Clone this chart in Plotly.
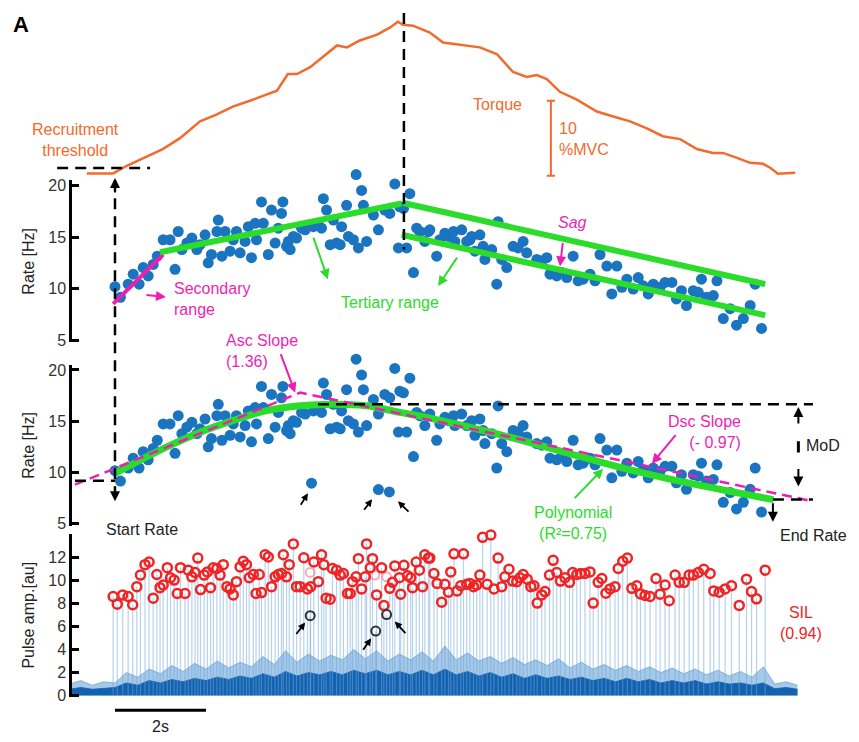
import plotly.graph_objects as go

# ---------------- data (time in s, torque in %MVC, rate in Hz, amplitude in au) -------------
torque_t = [-0.62, -0.04, 0.26, 0.62, 1.05, 1.43, 1.87, 2.24, 2.59, 3.03, 3.34, 3.56, 3.80, 4.00,
            4.29, 4.57, 4.88, 5.10, 5.38, 5.76, 6.04, 6.22, 6.33, 6.55, 6.92, 7.21, 7.52, 7.74,
            8.02, 8.40, 8.75, 9.05, 9.27, 9.49, 9.78, 10.15, 10.59, 10.95, 11.32, 11.69, 12.04,
            12.42, 12.79, 13.14, 13.36, 13.67, 13.96, 14.24, 14.40, 14.57, 14.95]
torque_v = [0.30, 0.30, 1.32, 2.37, 3.55, 5.00, 7.24, 8.16, 9.21, 10.13, 10.79, 11.32, 13.55, 13.55,
            14.47, 15.79, 17.37, 17.11, 18.03, 18.82, 19.74, 20.53, 20.13, 20.00, 19.08, 17.76, 17.50,
            17.37, 17.11, 16.18, 13.82, 13.16, 13.42, 12.89, 11.18, 10.13, 8.55, 7.89, 7.24, 6.32,
            5.26, 4.87, 3.55, 3.03, 3.03, 2.37, 1.71, 1.58, 1.05, 0.26, 0.39]

rate_t = [0.00, 0.12, 0.29, 0.40, 0.53, 0.62, 0.73, 0.84, 0.93, 1.06, 1.21, 1.32, 1.39, 1.47, 1.58,
          1.69, 1.80, 1.87, 1.98, 2.05, 2.12, 2.24, 2.27, 2.35, 2.42, 2.53, 2.60, 2.67, 2.75, 2.86,
          2.93, 3.00, 3.08, 3.11, 3.22, 3.26, 3.37, 3.44, 3.52, 3.59, 3.66, 3.69, 3.77, 3.81, 3.85,
          3.92, 3.99, 4.10, 4.18, 4.36, 4.47, 4.54, 4.58, 4.65, 4.73, 4.80, 4.87, 4.95, 4.98, 5.09,
          5.13, 5.24, 5.30, 5.35, 5.42, 5.46, 5.53, 5.68, 5.79, 5.93, 6.04, 6.15, 6.23, 6.26, 6.34,
          6.41, 6.48, 6.56, 6.63, 6.70, 6.81, 6.89, 6.92, 7.07, 7.14, 7.25, 7.33, 7.44, 7.47, 7.62,
          7.73, 7.80, 7.84, 7.91, 8.02, 8.09, 8.13, 8.28, 8.39, 8.42, 8.50, 8.61, 8.75, 8.86, 8.97,
          9.05, 9.27, 9.38, 9.49, 9.56, 9.71, 9.82, 9.93, 10.07, 10.18, 10.29, 10.44, 10.55, 10.66,
          10.81, 10.92, 11.03, 11.14, 11.25, 11.39, 11.50, 11.61, 11.72, 11.83, 11.98, 12.09, 12.24,
          12.34, 12.45, 12.56, 12.71, 12.82, 12.89, 13.00, 13.15, 13.23, 13.37, 13.52, 13.66, 13.81,
          13.96, 14.07, 14.21]
rate_hz = [10.19, 9.17, 10.44, 11.40, 10.44, 12.04, 11.24, 12.35, 13.15, 14.74, 14.74, 11.88, 15.54,
           13.79, 14.42, 14.90, 13.79, 14.26, 15.22, 12.51, 13.31, 15.54, 16.65, 13.15, 15.54, 13.63,
           14.74, 15.54, 13.47, 14.58, 16.01, 13.00, 16.33, 14.74, 18.40, 16.33, 13.31, 17.61, 14.42,
           15.86, 17.29, 18.40, 14.10, 14.58, 13.79, 15.06, 14.90, 15.86, 15.70, 16.01, 16.17, 15.86,
           18.72, 17.61, 14.26, 16.65, 14.42, 14.26, 16.01, 18.08, 15.06, 14.74, 21.05, 13.95, 19.52,
           18.08, 14.58, 17.13, 15.70, 17.61, 17.29, 20.15, 13.95, 17.93, 17.77, 13.95, 19.20, 11.56,
           15.86, 15.54, 14.58, 15.54, 15.70, 13.15, 14.74, 15.38, 15.06, 15.54, 14.58, 15.70, 14.58,
           14.74, 15.06, 13.63, 15.22, 14.10, 12.83, 13.79, 10.44, 16.49, 12.83, 12.04, 14.10, 13.95,
           14.58, 13.47, 12.83, 12.67, 13.00, 11.40, 11.24, 11.56, 11.08, 13.15, 10.76, 10.92, 11.40,
           10.76, 13.31, 12.19, 9.49, 12.19, 10.13, 10.92, 9.97, 11.08, 10.28, 9.49, 10.44, 10.13,
           10.61, 10.61, 9.01, 9.80, 8.37, 9.80, 9.65, 10.92, 9.17, 9.33, 10.76, 7.10, 8.06, 6.46,
           7.10, 8.37, 10.44, 6.15]
outlier_t = [4.32, 5.79, 6.03]
outlier_hz = [8.97, 8.34, 8.11]

secondary_t = [-0.04, 1.06]
secondary_hz = [8.53, 13.31]
tertiary_up_t = [0.99, 6.30]
tertiary_up_hz = [13.53, 18.25]
tertiary_hi_t = [6.34, 14.29]
tertiary_hi_hz = [18.30, 10.44]
tertiary_lo_t = [6.30, 14.29]
tertiary_lo_hz = [15.22, 7.42]

poly_t = [0.00, 1.14, 1.87, 2.59, 3.33, 4.07, 4.79, 5.53, 6.26, 6.92, 8.39, 9.85, 11.32, 12.78, 14.47]
poly_hz = [9.93, 12.50, 13.94, 15.07, 16.03, 16.51, 16.66, 16.51, 15.87, 15.30, 13.78, 12.02, 10.26,
           8.82, 7.37]
slope_t = [-0.88, 4.07, 15.34]
slope_hz = [8.82, 17.80, 7.20]

pulse_t = [-0.04, 0.05, 0.17, 0.29, 0.39, 0.48, 0.56, 0.66, 0.75, 0.84, 0.92, 0.99, 1.06, 1.15, 1.22,
           1.30, 1.37, 1.44, 1.54, 1.61, 1.69, 1.76, 1.82, 1.88, 1.96, 2.03, 2.10, 2.16, 2.24, 2.31,
           2.38, 2.46, 2.53, 2.60, 2.67, 2.75, 2.82, 2.89, 2.95, 3.04, 3.10, 3.17, 3.22, 3.30, 3.37,
           3.44, 3.52, 3.59, 3.66, 3.70, 3.77, 3.83, 3.92, 3.99, 4.07, 4.15, 4.23, 4.30, 4.37, 4.47,
           4.54, 4.59, 4.64, 4.73, 4.78, 4.87, 4.95, 5.02, 5.11, 5.17, 5.22, 5.30, 5.35, 5.42, 5.50,
           5.53, 5.61, 5.66, 5.75, 5.86, 5.91, 6.04, 6.10, 6.15, 6.25, 6.28, 6.35, 6.43, 6.50, 6.54,
           6.62, 6.69, 6.76, 6.81, 6.89, 6.92, 7.01, 7.08, 7.18, 7.25, 7.33, 7.38, 7.45, 7.52, 7.60,
           7.66, 7.73, 7.80, 7.88, 7.95, 8.02, 8.08, 8.18, 8.26, 8.33, 8.42, 8.50, 8.57, 8.66, 8.74,
           8.83, 8.90, 8.97, 9.06, 9.14, 9.21, 9.28, 9.38, 9.45, 9.55, 9.63, 9.71, 9.79, 9.89, 9.99,
           10.06, 10.15, 10.23, 10.33, 10.44, 10.51, 10.62, 10.70, 10.79, 10.88, 10.99, 11.06, 11.16,
           11.26, 11.36, 11.47, 11.55, 11.65, 11.76, 11.89, 11.98, 12.09, 12.18, 12.31, 12.40, 12.51,
           12.62, 12.71, 12.82, 12.94, 13.08, 13.16, 13.28, 13.41, 13.55, 13.72, 13.88, 13.99, 14.10,
           14.29]
pulse_amp = [8.60, 7.94, 8.74, 8.60, 7.89, 9.46, 10.46, 11.37, 11.60, 8.46, 10.51, 9.37, 9.60, 11.11,
             10.23, 10.03, 8.86, 11.11, 8.86, 10.89, 10.31, 10.69, 11.94, 9.20, 10.46, 10.74, 9.37,
             11.09, 11.03, 10.46, 11.37, 9.46, 9.26, 8.74, 9.89, 11.17, 11.66, 11.37, 10.23, 10.51,
             8.86, 10.51, 8.94, 12.23, 12.03, 9.46, 10.31, 10.51, 10.60, 12.23, 10.31, 11.37, 13.17,
             9.46, 9.46, 11.97, 9.26, 9.46, 11.60, 9.89, 12.23, 11.37, 8.46, 8.37, 11.03, 10.89, 10.46,
             10.60, 8.86, 8.86, 9.89, 10.31, 11.89, 9.26, 10.31, 13.17, 11.09, 11.89, 8.74, 11.09,
             7.83, 9.31, 9.83, 11.26, 10.23, 8.80, 11.31, 10.40, 10.23, 9.37, 11.60, 10.89, 9.46,
             12.23, 11.94, 11.94, 10.60, 9.74, 8.11, 9.66, 8.97, 10.74, 12.31, 9.09, 9.54, 12.31, 9.66,
             9.74, 9.46, 9.60, 10.46, 13.74, 9.66, 13.94, 9.26, 11.94, 9.46, 10.31, 10.97, 9.94, 9.89,
             10.23, 10.51, 10.11, 9.46, 9.54, 8.03, 8.74, 9.03, 10.46, 11.74, 10.69, 9.94, 10.23, 9.83,
             10.69, 10.51, 10.60, 10.60, 10.74, 8.03, 9.83, 10.17, 8.89, 9.26, 9.46, 11.03, 11.66,
             11.94, 9.31, 9.54, 8.83, 8.69, 8.60, 10.17, 8.80, 9.60, 8.23, 10.46, 9.83, 9.83, 10.46,
             10.46, 10.69, 10.97, 10.60, 9.09, 8.97, 9.26, 9.54, 7.83, 10.11, 9.03, 8.40, 10.89]
outlier_pulse_t = [4.29, 5.73, 5.97]
outlier_pulse_amp = [6.94, 5.60, 7.03]
ghost_pulse_t = [4.29, 5.71, 5.97]
ghost_pulse_amp = [10.69, 10.46, 10.31]

noise_t = [-1.0, -0.75, -0.5, -0.25, 0.0, 0.25, 0.5, 0.75, 1.0, 1.25, 1.5, 1.75, 2.0, 2.25, 2.5,
           2.75, 3.0, 3.25, 3.5, 3.75, 4.0, 4.25, 4.5, 4.75, 5.0, 5.25, 5.5, 5.75, 6.0, 6.25, 6.5,
           6.75, 7.0, 7.25, 7.5, 7.75, 8.0, 8.25, 8.5, 8.75, 9.0, 9.25, 9.5, 9.75, 10.0, 10.25, 10.5,
           10.75, 11.0, 11.25, 11.5, 11.75, 12.0, 12.25, 12.5, 12.75, 13.0, 13.25, 13.5, 13.75, 14.0,
           14.25, 14.5, 14.75, 15.0]
noise_peak = [1.0, 1.3, 0.9, 1.2, 1.1, 2.0, 1.6, 2.3, 1.9, 2.6, 2.1, 2.8, 2.3, 3.0, 2.4, 2.9, 2.5,
              3.4, 2.7, 3.9, 2.9, 3.6, 3.0, 3.5, 3.1, 4.0, 3.2, 3.9, 3.0, 3.6, 3.1, 3.8, 3.0, 4.3, 3.1,
              3.7, 3.0, 3.4, 2.8, 3.3, 2.7, 3.1, 2.6, 3.2, 2.4, 2.9, 2.3, 2.7, 2.2, 2.6, 2.1, 2.5, 2.0,
              2.4, 1.9, 2.3, 1.8, 2.2, 1.7, 2.1, 1.6, 2.5, 1.0, 1.2, 0.9]
noise_core = [0.55, 0.7, 0.55, 0.65, 0.7, 1.1, 0.9, 1.3, 1.1, 1.4, 1.2, 1.5, 1.3, 1.6, 1.4, 1.7, 1.5,
              1.9, 1.6, 2.1, 1.7, 2.0, 1.8, 2.1, 1.8, 2.2, 1.9, 2.2, 1.8, 2.1, 1.8, 2.2, 1.8, 2.3, 1.8,
              2.1, 1.7, 2.0, 1.6, 1.9, 1.5, 1.8, 1.5, 1.7, 1.4, 1.6, 1.3, 1.5, 1.2, 1.5, 1.2, 1.4, 1.1,
              1.3, 1.1, 1.3, 1.0, 1.2, 1.0, 1.1, 0.9, 1.1, 0.6, 0.7, 0.55]

t_start, t_peak, t_end = 0.0, 6.35, 14.46
recruit_torque = 1.01
start_rate, peak_rate, end_rate = 9.2, 16.66, 7.37

# ---------------- styling -------------
W, H = 859, 742
FONT = "Liberation Sans, Arial, sans-serif"
ORANGE = "#f26a2e"
BLUE = "#1a74c0"
GREEN = "#2bdc2b"
MAG = "#ec1fb4"
RED = "#f02424"
XR = [-2.527, 16.352]
DOM = {"y": [0.0523, 0.2749], "y2": [0.2856, 0.5057], "y3": [0.5364, 0.7578], "y4": [0.7578, 1.0]}
RNG = {"y": [-0.1, 14.05], "y2": [4.8, 20.5], "y3": [4.8, 20.5], "y4": [-0.62, 23.03]}


def paper_y(ax, v):
    d, r = DOM[ax], RNG[ax]
    return d[0] + (v - r[0]) / (r[1] - r[0]) * (d[1] - d[0])


def extended(ax, top):
    """Hidden overlay axis with the same scale as `ax`, extended upward to paper height `top`."""
    d, r = DOM[ax], RNG[ax]
    new_top = r[0] + (top - d[0]) / (d[1] - d[0]) * (r[1] - r[0])
    return dict(domain=[d[0], top], range=[r[0], new_top], visible=False, anchor="x")


def P(px, py):
    return px / W, 1 - py / H


fig = go.Figure()

# torque
fig.add_trace(go.Scatter(x=torque_t, y=torque_v, yaxis="y4", mode="lines",
                         line=dict(color=ORANGE, width=2.5)))
fig.add_trace(go.Scatter(x=[9.58, 9.58, None, 9.49, 9.67, None, 9.49, 9.67],
                         y=[0, 10, None, 0, 0, None, 10, 10], yaxis="y4", mode="lines",
                         line=dict(color=ORANGE, width=2)))

# rate panel 1 (overlay axis y5 has the same scale as y3 but extends upward)
fig.add_trace(go.Scatter(x=rate_t, y=rate_hz, yaxis="y5", mode="markers",
                         marker=dict(color=BLUE, size=11)))
fig.add_trace(go.Scatter(x=secondary_t, y=secondary_hz, yaxis="y5", mode="lines",
                         line=dict(color=MAG, width=4)))
for tx, hy in [(tertiary_up_t, tertiary_up_hz), (tertiary_hi_t, tertiary_hi_hz),
               (tertiary_lo_t, tertiary_lo_hz)]:
    fig.add_trace(go.Scatter(x=tx, y=hy, yaxis="y5", mode="lines", line=dict(color=GREEN, width=6)))

# rate panel 2 (overlay axis y6 has the same scale as y2)
fig.add_trace(go.Scatter(x=rate_t + outlier_t, y=rate_hz + outlier_hz, yaxis="y6", mode="markers",
                         marker=dict(color=BLUE, size=11)))
fig.add_trace(go.Scatter(x=poly_t, y=poly_hz, yaxis="y6", mode="lines",
                         line=dict(color=GREEN, width=7, shape="spline")))
fig.add_trace(go.Scatter(x=slope_t, y=slope_hz, yaxis="y6", mode="lines",
                         line=dict(color=MAG, width=2.5, dash="10px,6px")))

# pulse panel
fig.add_trace(go.Scatter(x=noise_t, y=noise_peak, yaxis="y", mode="lines", fill="tozeroy",
                         line=dict(color="rgba(40,120,200,0.55)", width=0.8),
                         fillcolor="rgba(60,135,205,0.45)"))
fig.add_trace(go.Scatter(x=noise_t, y=noise_core, yaxis="y", mode="lines", fill="tozeroy",
                         line=dict(color="#1262b0", width=0.8), fillcolor="#1262b0"))
all_t = pulse_t + outlier_pulse_t
all_a = pulse_amp + outlier_pulse_amp
sx, sy = [], []
for t, a in zip(all_t, all_a):
    sx += [t, t, None]
    sy += [0, a, None]
fig.add_trace(go.Scatter(x=sx, y=sy, yaxis="y", mode="lines",
                         line=dict(color="rgba(110,165,220,0.5)", width=1.2)))
fig.add_trace(go.Scatter(x=ghost_pulse_t, y=ghost_pulse_amp, yaxis="y", mode="markers",
                         marker=dict(symbol="circle-open", color="rgba(240,120,140,0.6)", size=9,
                                     line=dict(width=2))))
fig.add_trace(go.Scatter(x=pulse_t, y=pulse_amp, yaxis="y", mode="markers", cliponaxis=False,
                         marker=dict(symbol="circle-open", color=RED, size=9, line=dict(width=2.5))))
fig.add_trace(go.Scatter(x=outlier_pulse_t, y=outlier_pulse_amp, yaxis="y", mode="markers",
                         marker=dict(symbol="circle-open", color="#333333", size=9, line=dict(width=2))))

# ---------------- shapes -------------
DASH = dict(color="black", width=2.5, dash="11px,7px")
shapes = [
    dict(type="line", xref="x", yref="y4", x0=-1.27, x1=0.77, y0=recruit_torque, y1=recruit_torque, line=DASH),
    dict(type="line", xref="x", yref="paper", x0=t_start, x1=t_start,
         y0=paper_y("y4", -0.6), y1=paper_y("y2", 7.8), line=DASH),
    dict(type="line", xref="x", yref="paper", x0=t_peak, x1=t_peak,
         y0=paper_y("y4", 21.7), y1=paper_y("y3", 13.8), line=DASH),
    dict(type="line", xref="x", yref="y2", x0=-0.88, x1=t_start, y0=start_rate, y1=start_rate, line=DASH),
    dict(type="line", xref="x", yref="y2", x0=4.46, x1=15.34, y0=peak_rate, y1=peak_rate, line=DASH),
    dict(type="line", xref="x", yref="y2", x0=t_end, x1=15.34, y0=end_rate, y1=end_rate, line=DASH),
    dict(type="line", xref="x", yref="y2", x0=15.02, x1=15.02, y0=11.95, y1=13.05,
         line=dict(color="black", width=3)),
    dict(type="line", xref="x", yref="paper", x0=0, x1=2, y0=1 - 717 / H, y1=1 - 717 / H,
         line=dict(color="black", width=3)),
]

# ---------------- annotations -------------
anns = []


def text(px, py, s, color="black", size=16, xanchor="center", align="center", **kw):
    x, y = P(px, py)
    anns.append(dict(x=x, y=y, xref="paper", yref="paper", text=s, showarrow=False,
                     font=dict(family=FONT, size=size, color=color), xanchor=xanchor,
                     yanchor="middle", align=align, **kw))


def arrow(x, y, yref, ax, ay, color="black", width=2, size=1.0):
    anns.append(dict(x=x, y=y, xref="x", yref=yref, ax=ax, ay=ay, text="", showarrow=True,
                     arrowhead=2, arrowsize=size, arrowwidth=width, arrowcolor=color))


text(21, 22, "<b>A</b>", size=22)
text(75, 139, "Recruitment<br>threshold", ORANGE, 16)
text(497, 103, "Torque", ORANGE, 16)
text(557, 138, "10<br>%MVC", ORANGE, 16, xanchor="left", align="left")
text(172, 300, "Secondary<br>range", MAG, 16, xanchor="left", align="left")
text(390, 304, "Tertiary range", GREEN, 16)
text(572, 222, "<i>Sag</i>", MAG, 16)
text(224, 353, "Asc Slope<br>(1.36)", MAG, 16, xanchor="left", align="left")
text(743, 435, "Dsc Slope<br>(- 0.97)", MAG, 16, xanchor="right", align="right")
text(804, 449, "MoD", "#222222", 16, xanchor="left")
text(573, 527, "Polynomial<br>(R²=0.75)", GREEN, 16)
text(142, 534, "Start Rate", "#222222", 16)
text(778, 540, "End Rate", "#222222", 16, xanchor="left")
text(801, 628, "SIL<br>(0.94)", RED, 16)
text(160, 733, "2s", "#222222", 16)

arrow(t_start, -0.3, "y4", 0, 16)
arrow(t_start, 7.2, "y2", 0, -16)
arrow(t_end, 5.2, "y2", 0, -20)
arrow(15.02, 16.4, "y2", 0, 18)
arrow(15.02, 8.65, "y2", 0, -19)
arrow(4.24, 7.98, "y2", -8, 13, width=1.8, size=0.8)
arrow(5.65, 7.40, "y2", -9, 12, width=1.8, size=0.8)
arrow(6.22, 7.21, "y2", 12, 12, width=1.8, size=0.8)
arrow(4.18, 6.34, "y", -10, 13, width=1.8, size=0.8)
arrow(5.63, 4.97, "y", -9, 13, width=1.8, size=0.8)
arrow(6.15, 6.43, "y", 12, 13, width=1.8, size=0.8)
arrow(1.12, 9.2, "y3", -21, -2, MAG)
arrow(9.78, 12.16, "y3", 3, -25, MAG)
arrow(3.96, 17.79, "y2", -15, -40, MAG)
arrow(11.80, 10.87, "y2", 25, -30, MAG)
arrow(4.68, 10.92, "y3", -15, -43, GREEN)
arrow(7.10, 10.25, "y3", 20, -30, GREEN)
arrow(10.73, 10.38, "y2", -30, 31, GREEN)

yax = dict(showline=True, linecolor="black", linewidth=2.5, ticks="inside", ticklen=7,
           tickwidth=2.5, tickcolor="black", tickfont=dict(family=FONT, size=16, color="#333333"),
           showgrid=False, zeroline=False, anchor="free", position=70 / W,
           title_font=dict(family=FONT, size=16, color="#222222"), title_standoff=8)

fig.update_layout(
    width=W, height=H, margin=dict(l=0, r=0, t=0, b=0),
    paper_bgcolor="white", plot_bgcolor="rgba(0,0,0,0)", showlegend=False,
    font=dict(family=FONT),
    xaxis=dict(domain=[0, 1], range=XR, visible=False, anchor="y"),
    yaxis=dict(yax, domain=DOM["y"], range=RNG["y"], tickvals=[0, 2, 4, 6, 8, 10, 12],
               title_text="Pulse amp.[au]"),
    yaxis2=dict(yax, domain=DOM["y2"], range=RNG["y2"], tickvals=[5, 10, 15, 20],
                title_text="Rate [Hz]"),
    yaxis3=dict(yax, domain=DOM["y3"], range=RNG["y3"], tickvals=[5, 10, 15, 20],
                title_text="Rate [Hz]"),
    yaxis4=dict(domain=DOM["y4"], range=RNG["y4"], visible=False, anchor="x"),
    yaxis5=extended("y3", 0.79),
    yaxis6=extended("y2", 0.525),
    shapes=shapes, annotations=anns,
)

fig.write_html("out.html")
